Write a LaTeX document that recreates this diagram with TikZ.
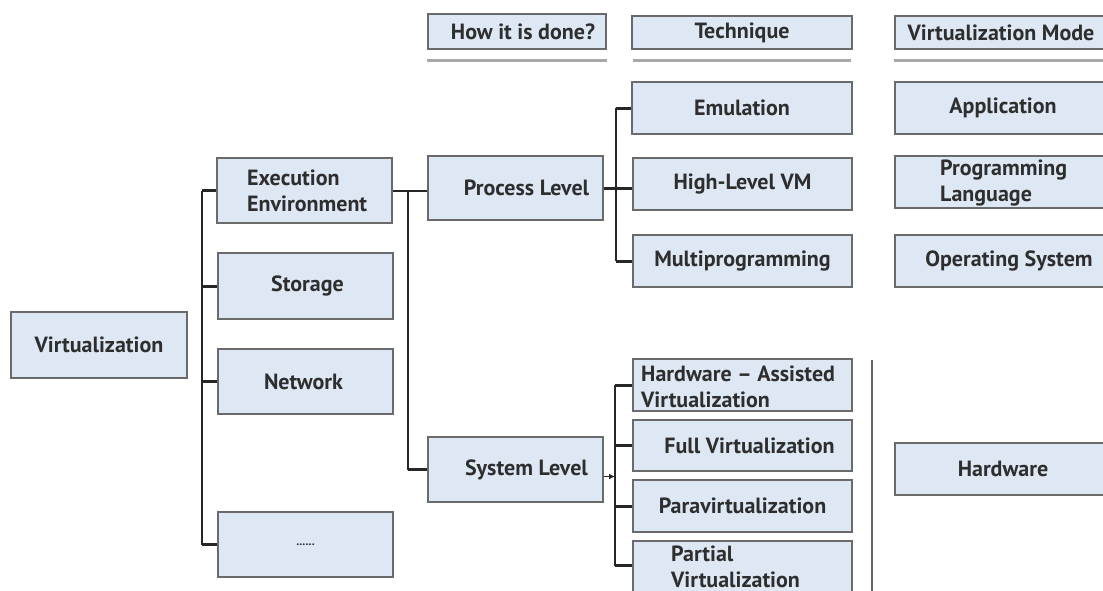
\documentclass[tikz,border=0pt]{standalone}
\usepackage{fontspec}
\setmainfont{PT Sans}
\usetikzlibrary{arrows.meta}
\definecolor{boxfill}{HTML}{DEE8F4}
\definecolor{boxline}{HTML}{6A6A6A}
\definecolor{txtc}{HTML}{2E2E2E}
\definecolor{rule}{HTML}{A8A8A8}
\begin{document}
\begin{tikzpicture}[x=1pt,y=-1pt,
  box/.style={draw=boxline, line width=1.4pt, fill=boxfill, inner sep=0pt, text=txtc,
    font=\fontsize{22}{26}\selectfont\bfseries},
  txt/.style={inner sep=0pt, text=txtc, font=\fontsize{22}{26}\selectfont\bfseries, align=left},
  bus/.style={draw=black!85, line width=1.4pt},
  stub/.style={draw=black!85, line width=3pt},
  hrule/.style={draw=rule, line width=3pt},
  vrule/.style={draw=black!60, line width=1.2pt}]
\useasboundingbox (0,0) rectangle (1103,590);
\clip (0,0) rectangle (1103,590);
% headers
\node[box, minimum width=178pt, minimum height=35pt] (how) at (517,31.5) {\hspace*{12pt}How it is done?};
\node[box, minimum width=220pt, minimum height=33pt] (tech) at (742,32.5) {Technique};
\node[box, minimum width=220pt, minimum height=33pt] (mode) at (1005,32.5) {\hspace*{-8pt}Virtualization Mode};
\draw[hrule] (how.south west) ++(0,11) coordinate (h1a) -- (h1a -| how.south east);
\draw[hrule] (tech.south west) ++(2,11) coordinate (h2a) -- ([xshift=-2pt]h2a -| tech.south east);
\draw[hrule] (mode.south west) ++(0,11) coordinate (h3a) -- (h3a -| mode.south east);
% left column
\node[box, minimum width=176pt, minimum height=66pt] (virt) at (99,345) {Virtualization};
\node[box, minimum width=175pt, minimum height=65pt] (exec) at (304.5,190.5) {};
\node[txt, anchor=west] (exect) at (247,191) {Execution\\Environment};
\node[box, minimum width=175pt, minimum height=66pt] (stor) at (305.5,286) {\hspace*{4pt}Storage};
\node[box, minimum width=175pt, minimum height=65pt] (net) at (305.5,381.5) {\hspace*{-4pt}Network};
\node[box, minimum width=175pt, minimum height=65pt] (dots) at (305.5,544.5) {\fontsize{12}{12}\selectfont\bfseries ......};
% how it is done
\node[box, minimum width=175pt, minimum height=64pt] (pl) at (515.5,188) {\hspace*{22pt}Process Level};
\node[box, minimum width=175pt, minimum height=65pt] (sys) at (515.5,469.5) {\hspace*{22pt}System Level};
% technique
\node[box, minimum width=220pt, minimum height=52pt] (emu) at (742,108) {Emulation};
\node[box, minimum width=219pt, minimum height=52pt] (hlvm) at (742.5,184) {High-Level VM};
\node[box, minimum width=219pt, minimum height=52pt] (multi) at (742.5,261) {Multiprogramming};
\node[box, minimum width=219pt, minimum height=52pt] (hwa) at (742.5,385) {};
\node[txt, anchor=west] (hwat) at (641,387) {Hardware -- Assisted\\Virtualization};
\node[box, minimum width=219pt, minimum height=51pt] (full) at (742.5,445.5) {\hspace*{14pt}Full Virtualization};
\node[box, minimum width=219pt, minimum height=52pt] (para) at (742.5,506) {Paravirtualization};
\node[box, minimum width=219pt, minimum height=69pt] (part) at (742.5,575.5) {};
\node[txt, anchor=west] (partt) at (671,567) {Partial\\Virtualization};
% modes
\node[box, minimum width=220pt, minimum height=52pt] (app) at (1005,108) {\hspace*{-4pt}Application};
\node[box, minimum width=220pt, minimum height=52pt] (prog) at (1005,182) {};
\node[txt, anchor=west] (progt) at (940,183.5) {Programming\\Language};
\node[box, minimum width=220pt, minimum height=52pt] (os) at (1005,261) {\hspace*{8pt}Operating System};
\node[box, minimum width=220pt, minimum height=52pt] (hw) at (1005,469) {\hspace*{-4pt}Hardware};
% separator
\coordinate (sepa) at (872,360);
\coordinate (sepb) at (872,600);
\draw[vrule] (sepa) -- (sepb);
% connectors
\coordinate (b1) at (202,0);
\coordinate (b2) at (408,0);
\coordinate (b3) at (616,0);
\coordinate (b4) at (615,0);
\draw[bus] (exec.west -| b1) -- (dots.west -| b1);
\foreach \n in {exec,stor,net,dots} \draw[stub] (\n.west -| b1) -- (\n.west);
\draw[bus, line width=2pt] (exec.east) -- (exec.east -| pl.west);
\draw[bus] (exec.east -| b2) -- (sys.west -| b2);
\draw[stub] (sys.west -| b2) -- (sys.west);
\draw[bus] (emu.west -| b3) -- (multi.west -| b3);
\foreach \n in {emu,multi} \draw[stub] (\n.west -| b3) -- (\n.west);
\draw[stub] (pl.east) -- (pl.east -| hlvm.west);
\coordinate (pstub) at ([yshift=10pt]part.west);
\draw[bus] (hwa.west -| b4) -- (pstub -| b4);
\foreach \n in {hwa,full,para} \draw[stub] (\n.west -| b4) -- (\n.west);
\draw[stub] (pstub -| b4) -- (pstub);
\coordinate (sarr) at ([yshift=-7pt]sys.east);
\draw[bus, line width=1.8pt, -{Latex[length=6pt,width=6pt]}] (sarr) -- (sarr -| b4);
\end{tikzpicture}
\end{document}
